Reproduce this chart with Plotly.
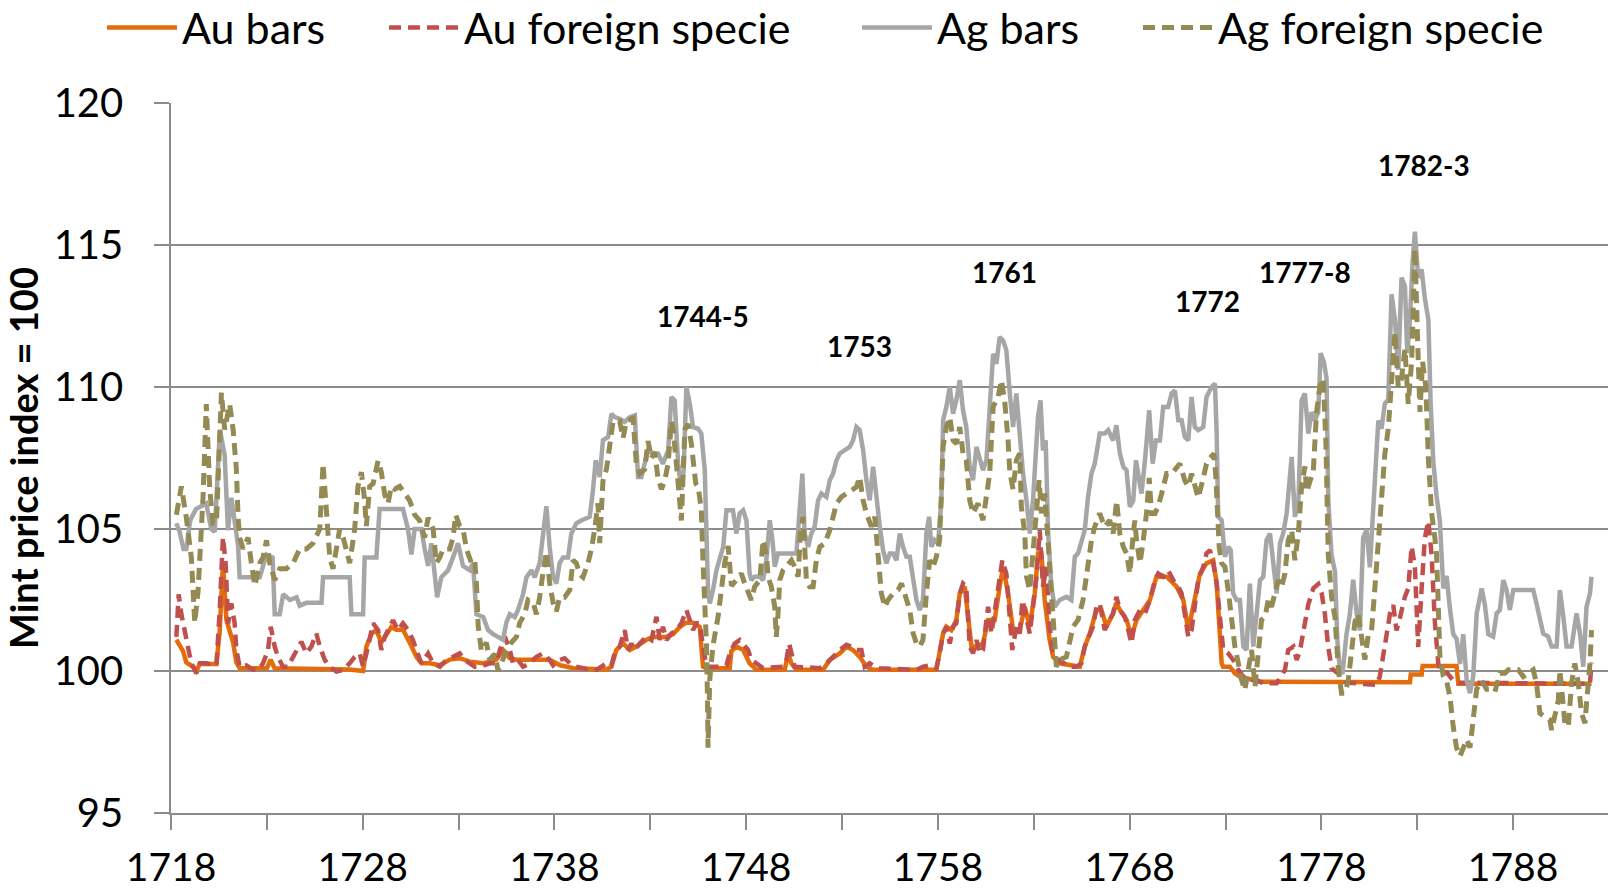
import plotly.graph_objects as go

# ---------------- data (year, index value) ----------------
AU_BARS = [
    (1718.28, 101.1), (1718.63, 100.7), (1718.80, 100.3), (1719.15, 100.15), (1719.32, 100.0), (1719.50, 100.25),
    (1720.37, 100.25), (1720.54, 101.4), (1720.71, 103.8), (1720.89, 101.8), (1721.06, 101.4), (1721.24, 101.0),
    (1721.41, 100.3), (1721.58, 100.1), (1723.0, 100.1), (1723.2, 100.4), (1723.4, 100.1), (1727.32, 100.05),
    (1728.02, 100.0), (1728.19, 100.86), (1728.45, 101.3), (1728.71, 101.45), (1728.97, 101.0), (1729.23, 101.3),
    (1729.49, 101.55), (1729.75, 101.45), (1730.10, 101.45), (1730.45, 101.0), (1730.80, 100.5), (1731.06, 100.27),
    (1731.49, 100.27), (1732.02, 100.2), (1732.54, 100.4), (1733.06, 100.45), (1733.58, 100.33), (1734.28, 100.27),
    (1734.97, 100.4), (1735.32, 100.74), (1735.67, 100.45), (1736.02, 100.4), (1737.06, 100.4), (1737.75, 100.4),
    (1738.3, 100.2), (1739.0, 100.1), (1740.71, 100.05), (1740.97, 100.15), (1741.23, 100.74), (1741.58, 100.97),
    (1741.93, 100.74), (1742.27, 100.86), (1742.80, 101.1), (1743.14, 101.2), (1743.84, 101.2), (1744.19, 101.3),
    (1744.54, 101.55), (1744.88, 101.7), (1745.23, 101.7), (1745.58, 101.55), (1745.75, 100.15), (1745.93, 100.1),
    (1747.14, 100.1), (1747.23, 100.7), (1747.49, 100.86), (1747.84, 100.74), (1748.18, 100.27), (1748.53, 100.04),
    (1750.01, 100.04), (1750.18, 100.62), (1750.36, 100.27), (1750.62, 100.04), (1752.01, 100.04), (1752.36, 100.39),
    (1752.88, 100.62), (1753.23, 100.86), (1753.57, 100.74), (1753.92, 100.5), (1754.27, 100.15), (1754.62, 100.04),
    (1757.92, 100.04), (1758.09, 100.62), (1758.27, 101.32), (1758.44, 101.56), (1758.70, 101.44), (1758.96, 101.8),
    (1759.14, 102.73), (1759.40, 102.97), (1759.57, 101.91), (1759.75, 100.86), (1760.01, 100.86), (1760.35, 100.97),
    (1760.62, 101.8), (1760.96, 101.8), (1761.22, 102.97), (1761.40, 103.67), (1761.66, 102.73), (1761.92, 101.44),
    (1762.27, 101.44), (1762.53, 102.26), (1762.79, 101.56), (1763.05, 102.73), (1763.22, 104.14), (1763.40, 104.14),
    (1763.57, 102.5), (1763.83, 101.09), (1764.01, 100.5), (1764.35, 100.27), (1765.40, 100.15), (1765.66, 100.86),
    (1765.92, 101.32), (1766.27, 102.15), (1766.53, 102.15), (1766.79, 101.56), (1767.14, 102.03), (1767.30, 102.4),
    (1767.49, 102.15), (1767.84, 101.8), (1768.10, 101.2), (1768.36, 101.8), (1768.71, 102.15), (1769.06, 102.5),
    (1769.40, 103.32), (1769.93, 103.32), (1770.45, 102.97), (1770.80, 102.5), (1771.06, 101.44), (1771.32, 102.26),
    (1771.67, 103.43), (1772.01, 103.79), (1772.36, 103.9), (1772.54, 103.08), (1772.71, 101.32), (1772.80, 100.27),
    (1772.88, 100.15), (1773.23, 100.15), (1773.49, 99.92), (1773.75, 99.8), (1774.80, 99.62), (1782.62, 99.6),
    (1782.66, 99.88), (1783.23, 99.88), (1783.28, 100.18), (1785.05, 100.18), (1785.14, 99.55), (1792.09, 99.55),
]

AU_FOREIGN = [
    (1718.28, 101.2), (1718.40, 102.7), (1718.54, 102.0), (1718.71, 101.44), (1718.89, 100.74), (1719.06, 100.27),
    (1719.32, 99.92), (1719.50, 100.27), (1719.84, 100.27), (1720.37, 100.2), (1720.54, 102.15), (1720.71, 104.72),
    (1720.85, 103.79), (1720.98, 101.68), (1721.15, 102.38), (1721.32, 101.68), (1721.41, 100.74), (1721.58, 100.15),
    (1721.93, 100.2), (1722.28, 100.04), (1722.54, 100.04), (1722.80, 100.27), (1723.06, 100.74), (1723.20, 101.56),
    (1723.41, 100.86), (1723.58, 100.5), (1723.84, 100.15), (1724.11, 100.15), (1724.37, 100.5), (1724.54, 100.74),
    (1724.80, 101.03), (1725.06, 100.62), (1725.32, 100.86), (1725.58, 101.32), (1725.76, 100.86), (1726.02, 100.39),
    (1726.28, 100.15), (1726.63, 99.98), (1726.98, 100.04), (1727.32, 100.27), (1727.58, 100.5), (1727.84, 100.62),
    (1728.02, 100.15), (1728.28, 100.86), (1728.54, 101.68), (1728.80, 101.44), (1728.97, 100.74), (1729.15, 101.21),
    (1729.32, 101.44), (1729.58, 101.79), (1729.84, 101.44), (1730.10, 101.68), (1730.36, 101.44), (1730.62, 101.09),
    (1730.80, 100.74), (1731.06, 100.27), (1731.41, 100.62), (1731.67, 100.27), (1732.02, 100.15), (1732.36, 100.39),
    (1732.71, 100.5), (1733.06, 100.62), (1733.32, 100.39), (1733.58, 100.27), (1733.84, 100.15), (1734.10, 100.15),
    (1734.62, 100.27), (1734.97, 100.27), (1735.15, 100.74), (1735.41, 101.21), (1735.67, 100.74), (1735.84, 100.27),
    (1736.10, 100.39), (1736.36, 100.15), (1736.71, 100.27), (1737.06, 100.5), (1737.41, 100.62), (1737.75, 100.39),
    (1737.93, 100.2), (1738.27, 100.39), (1738.53, 100.45), (1738.80, 100.27), (1739.14, 100.15), (1739.49, 100.1),
    (1739.84, 100.04), (1740.19, 100.04), (1740.45, 100.15), (1740.71, 100.27), (1740.97, 100.2), (1741.14, 100.62),
    (1741.40, 100.86), (1741.66, 101.44), (1741.84, 100.74), (1742.01, 100.97), (1742.19, 100.74), (1742.45, 100.97),
    (1742.80, 101.21), (1743.06, 101.09), (1743.32, 101.91), (1743.49, 101.09), (1743.66, 101.56), (1743.84, 101.09),
    (1744.10, 101.32), (1744.36, 101.44), (1744.62, 101.68), (1744.88, 102.15), (1745.06, 101.79), (1745.23, 101.44),
    (1745.40, 101.68), (1745.58, 101.68), (1745.75, 100.86), (1745.93, 100.15), (1746.62, 100.15), (1746.97, 100.2),
    (1747.14, 100.62), (1747.40, 100.97), (1747.66, 101.09), (1747.92, 100.86), (1748.10, 100.74), (1748.27, 100.39),
    (1748.53, 100.27), (1748.88, 100.1), (1749.92, 100.15), (1750.10, 100.39), (1750.24, 100.97), (1750.36, 100.62),
    (1750.53, 100.15), (1751.84, 100.1), (1752.18, 100.27), (1752.53, 100.5), (1752.88, 100.74), (1753.23, 100.92),
    (1753.49, 100.86), (1753.75, 100.74), (1754.01, 100.74), (1754.18, 100.15), (1754.44, 100.27), (1754.71, 100.15),
    (1754.97, 100.1), (1756.88, 100.04), (1757.23, 100.15), (1757.57, 100.2), (1757.92, 100.1), (1758.09, 100.62),
    (1758.27, 101.32), (1758.44, 101.56), (1758.62, 100.97), (1758.79, 101.56), (1758.96, 101.68), (1759.14, 102.73),
    (1759.31, 103.08), (1759.48, 102.97), (1759.66, 100.86), (1759.83, 100.62), (1760.01, 101.09), (1760.18, 100.62),
    (1760.35, 100.74), (1760.53, 101.8), (1760.62, 102.26), (1760.79, 101.32), (1760.96, 102.03), (1761.14, 102.97),
    (1761.36, 103.9), (1761.57, 103.43), (1761.75, 102.03), (1761.88, 100.74), (1762.09, 101.56), (1762.27, 101.32),
    (1762.41, 102.5), (1762.62, 101.8), (1762.79, 101.32), (1762.96, 102.26), (1763.14, 103.32), (1763.31, 104.96),
    (1763.48, 102.97), (1763.66, 103.67), (1763.83, 101.56), (1764.01, 100.5), (1764.27, 100.39), (1764.53, 100.27),
    (1764.88, 100.15), (1765.22, 100.15), (1765.48, 100.27), (1765.66, 100.86), (1765.92, 101.32), (1766.09, 101.56),
    (1766.27, 102.26), (1766.44, 102.38), (1766.70, 101.44), (1766.96, 101.8), (1767.14, 102.03), (1767.31, 102.61),
    (1767.49, 102.15), (1767.75, 101.91), (1767.93, 101.44), (1768.10, 100.97), (1768.27, 101.8), (1768.54, 102.15),
    (1768.80, 102.03), (1769.06, 102.5), (1769.32, 103.2), (1769.49, 103.43), (1769.75, 103.32), (1770.01, 103.55),
    (1770.27, 103.2), (1770.54, 102.97), (1770.71, 102.73), (1770.88, 102.03), (1771.06, 101.2), (1771.23, 101.44),
    (1771.40, 102.26), (1771.58, 103.2), (1771.84, 103.67), (1772.01, 104.14), (1772.19, 104.26), (1772.36, 103.79),
    (1772.54, 103.08), (1772.71, 101.68), (1772.88, 100.74), (1773.14, 100.62), (1773.40, 100.39), (1773.67, 100.04),
    (1773.93, 99.8), (1774.27, 99.68), (1774.62, 99.68), (1774.97, 99.57), (1775.67, 99.57), (1776.10, 100.04),
    (1776.27, 100.74), (1776.54, 100.86), (1776.71, 100.39), (1776.88, 100.7), (1777.05, 101.43), (1777.31, 102.32),
    (1777.58, 102.91), (1777.84, 103.06), (1778.01, 102.76), (1778.18, 102.02), (1778.36, 100.84), (1778.53, 100.1),
    (1778.79, 99.96), (1779.05, 99.81), (1779.31, 99.59), (1780.88, 99.51), (1781.05, 99.81), (1781.23, 100.55),
    (1781.40, 101.29), (1781.58, 102.02), (1781.75, 102.32), (1781.92, 101.43), (1782.10, 101.88), (1782.36, 102.62),
    (1782.53, 102.91), (1782.71, 104.39), (1782.88, 103.65), (1783.05, 100.84), (1783.23, 102.91), (1783.40, 104.69),
    (1783.58, 105.28), (1783.75, 104.09), (1783.92, 101.73), (1784.10, 100.25), (1784.27, 99.96), (1784.53, 99.96),
    (1784.88, 99.66), (1785.23, 99.59), (1792.01, 99.55), (1792.09, 100.3),
]

AG_BARS = [
    (1718.28, 105.2), (1718.45, 104.9), (1718.65, 104.3), (1718.80, 104.3), (1719.0, 105.3), (1719.3, 105.7),
    (1719.84, 105.9), (1720.1, 105.0), (1720.28, 104.9), (1720.45, 107.5), (1720.55, 108.5), (1720.8, 107.6),
    (1720.97, 104.96), (1721.15, 106.1), (1721.32, 105.2), (1721.5, 104.4), (1721.58, 103.3), (1722.63, 103.3),
    (1722.98, 104.1), (1723.3, 104.0), (1723.41, 102.0), (1723.67, 102.0), (1723.85, 102.7), (1724.02, 102.6),
    (1724.2, 102.5), (1724.55, 102.6), (1724.71, 102.3), (1725.06, 102.4), (1725.85, 102.4), (1725.93, 103.3),
    (1727.32, 103.3), (1727.41, 102.0), (1728.02, 102.0), (1728.1, 104.0), (1728.71, 104.0), (1728.88, 105.7),
    (1730.1, 105.7), (1730.36, 105.0), (1730.54, 104.1), (1730.71, 105.0), (1731.06, 105.0), (1731.23, 104.3),
    (1731.41, 103.7), (1731.58, 104.5), (1731.75, 103.55), (1731.88, 102.6), (1732.1, 103.3), (1732.45, 103.55),
    (1732.71, 104.0), (1732.97, 104.5), (1733.23, 103.7), (1733.58, 103.55), (1733.75, 103.8), (1733.93, 102.0),
    (1734.28, 101.9), (1734.54, 101.44), (1734.8, 101.3), (1735.06, 101.2), (1735.32, 101.1), (1735.49, 101.7),
    (1735.67, 102.0), (1735.93, 101.9), (1736.1, 102.15), (1736.36, 102.7), (1736.54, 103.3), (1736.8, 103.55),
    (1736.97, 103.3), (1737.23, 103.8), (1737.40, 104.7), (1737.58, 105.8), (1737.75, 104.37), (1737.93, 103.32),
    (1738.10, 103.08), (1738.27, 103.8), (1738.45, 104.0), (1738.71, 104.0), (1738.88, 104.84), (1739.14, 105.2),
    (1739.40, 105.3), (1739.84, 105.43), (1740.01, 106.37), (1740.15, 107.42), (1740.36, 106.83), (1740.53, 108.12),
    (1740.80, 108.24), (1740.97, 109.06), (1741.14, 108.94), (1741.40, 108.88), (1741.66, 108.77), (1741.93, 108.94),
    (1742.19, 109.0), (1742.36, 106.83), (1742.53, 106.83), (1742.71, 107.3), (1742.88, 107.77), (1743.14, 107.66),
    (1743.40, 107.66), (1743.66, 107.3), (1743.93, 107.77), (1744.10, 109.65), (1744.27, 109.53), (1744.45, 107.3),
    (1744.62, 106.37), (1744.74, 107.07), (1744.88, 110.0), (1745.06, 109.41), (1745.23, 108.59), (1745.49, 108.53),
    (1745.66, 108.36), (1745.84, 107.07), (1745.93, 104.96), (1746.01, 102.85), (1746.10, 102.38), (1746.27, 102.85),
    (1746.45, 103.55), (1746.62, 104.02), (1746.80, 104.37), (1746.97, 105.66), (1747.31, 105.66), (1747.49, 104.84),
    (1747.66, 105.55), (1747.84, 105.66), (1748.01, 105.31), (1748.18, 103.43), (1748.27, 103.2), (1748.44, 103.32),
    (1748.71, 103.32), (1748.88, 103.2), (1749.05, 103.9), (1749.23, 105.31), (1749.37, 104.61), (1749.49, 103.67),
    (1749.66, 104.14), (1750.62, 104.14), (1750.79, 105.55), (1750.93, 106.95), (1751.05, 104.84), (1751.23, 104.37),
    (1751.40, 104.84), (1751.57, 105.08), (1751.75, 106.01), (1751.92, 106.25), (1752.18, 106.13), (1752.36, 106.72),
    (1752.53, 106.95), (1752.71, 107.42), (1752.88, 107.66), (1753.14, 107.77), (1753.40, 107.89), (1753.57, 108.12),
    (1753.75, 108.59), (1753.92, 108.48), (1754.10, 107.77), (1754.27, 106.72), (1754.44, 106.01), (1754.62, 107.19),
    (1754.79, 106.01), (1754.97, 105.08), (1755.14, 104.26), (1755.31, 103.79), (1755.49, 104.14), (1755.66, 104.14),
    (1755.84, 103.9), (1756.01, 104.84), (1756.18, 104.37), (1756.36, 104.02), (1756.53, 104.02), (1756.71, 103.2),
    (1756.88, 102.5), (1757.05, 102.15), (1757.22, 102.5), (1757.40, 104.84), (1757.54, 105.43), (1757.66, 104.37),
    (1757.83, 104.61), (1758.01, 104.49), (1758.18, 106.01), (1758.27, 108.83), (1758.44, 109.3), (1758.62, 110.0),
    (1758.79, 109.06), (1758.96, 109.53), (1759.14, 110.24), (1759.31, 109.18), (1759.48, 108.59), (1759.66, 107.19),
    (1759.83, 106.72), (1760.01, 107.89), (1760.18, 107.42), (1760.35, 107.07), (1760.53, 107.42), (1760.70, 109.18),
    (1760.88, 111.17), (1761.05, 110.82), (1761.22, 111.76), (1761.40, 111.64), (1761.57, 111.29), (1761.75, 109.77),
    (1761.92, 108.59), (1762.09, 109.77), (1762.27, 108.36), (1762.44, 106.95), (1762.62, 106.01), (1762.79, 104.84),
    (1762.96, 106.01), (1763.22, 108.94), (1763.35, 109.53), (1763.48, 107.77), (1763.62, 108.12), (1763.75, 104.84),
    (1763.92, 102.97), (1764.09, 102.26), (1764.35, 102.5), (1764.70, 102.61), (1764.96, 102.5), (1765.14, 104.02),
    (1765.31, 104.14), (1765.48, 104.49), (1765.66, 104.96), (1765.83, 106.13), (1766.01, 106.95), (1766.18, 107.3),
    (1766.44, 108.36), (1766.70, 108.36), (1766.88, 108.48), (1767.14, 108.12), (1767.31, 108.65), (1767.49, 107.66),
    (1767.67, 107.19), (1767.84, 107.07), (1768.01, 105.78), (1768.19, 106.01), (1768.33, 107.42), (1768.50, 106.72),
    (1768.62, 106.25), (1768.80, 107.42), (1769.02, 109.18), (1769.20, 107.3), (1769.37, 108.12), (1769.58, 108.12),
    (1769.75, 109.3), (1770.01, 109.3), (1770.19, 109.77), (1770.36, 109.88), (1770.54, 108.83), (1770.71, 108.83),
    (1770.88, 108.24), (1771.06, 108.12), (1771.23, 109.65), (1771.40, 108.59), (1771.58, 108.48), (1771.84, 108.59),
    (1772.01, 109.65), (1772.27, 110.0), (1772.45, 110.12), (1772.54, 108.36), (1772.62, 105.43), (1772.80, 105.31),
    (1772.97, 104.02), (1773.14, 104.37), (1773.27, 104.26), (1773.40, 102.73), (1773.58, 102.5), (1773.75, 102.5),
    (1773.93, 100.86), (1774.10, 100.74), (1774.27, 103.08), (1774.45, 100.86), (1774.62, 102.03), (1774.80, 103.2),
    (1774.97, 103.32), (1775.14, 104.61), (1775.32, 104.84), (1775.49, 103.67), (1775.67, 102.73), (1775.84, 104.49),
    (1776.01, 104.84), (1776.19, 105.55), (1776.45, 107.54), (1776.62, 105.43), (1776.80, 105.9), (1776.97, 109.53),
    (1777.14, 109.77), (1777.32, 108.36), (1777.49, 109.12), (1777.66, 108.82), (1777.84, 109.12), (1777.96, 111.19),
    (1778.13, 110.89), (1778.27, 110.3), (1778.36, 106.02), (1778.53, 104.09), (1778.71, 103.5), (1778.83, 101.14),
    (1778.97, 99.96), (1779.11, 99.96), (1779.31, 101.29), (1779.49, 102.02), (1779.66, 103.21), (1779.84, 102.02),
    (1780.01, 101.43), (1780.18, 104.69), (1780.36, 104.98), (1780.53, 103.65), (1780.71, 105.57), (1780.97, 108.82),
    (1781.14, 108.53), (1781.31, 109.41), (1781.49, 109.56), (1781.66, 113.26), (1781.84, 112.37), (1782.01, 110.6),
    (1782.18, 113.85), (1782.36, 113.55), (1782.48, 111.19), (1782.62, 112.37), (1782.76, 114.44), (1782.88, 115.47),
    (1783.05, 113.85), (1783.23, 114.14), (1783.40, 113.11), (1783.58, 112.37), (1783.70, 109.41), (1783.84, 107.35),
    (1784.01, 106.16), (1784.18, 105.28), (1784.36, 102.91), (1784.53, 103.35), (1784.71, 102.17), (1784.88, 101.29),
    (1785.05, 101.14), (1785.23, 100.25), (1785.40, 101.29), (1785.58, 99.66), (1785.75, 99.22), (1785.92, 99.81),
    (1786.10, 102.02), (1786.36, 102.91), (1786.53, 102.32), (1786.71, 101.29), (1786.96, 101.21), (1787.14, 102.03),
    (1787.31, 102.15), (1787.49, 103.2), (1787.66, 102.85), (1787.83, 102.15), (1788.01, 102.85), (1789.05, 102.85),
    (1789.22, 102.38), (1789.40, 101.79), (1789.57, 101.32), (1789.83, 101.21), (1790.01, 100.86), (1790.27, 100.86),
    (1790.44, 102.85), (1790.62, 101.91), (1790.79, 100.86), (1791.05, 100.86), (1791.31, 102.03), (1791.49, 101.32),
    (1791.66, 100.15), (1791.83, 102.26), (1792.01, 102.73), (1792.09, 103.32),
]

AG_FOREIGN = [
    (1718.28, 105.5), (1718.54, 106.5), (1718.80, 105.4), (1719.06, 104.0), (1719.24, 101.7), (1719.41, 102.8),
    (1719.67, 106.1), (1719.84, 109.4), (1720.02, 106.4), (1720.19, 105.2), (1720.37, 105.2), (1720.63, 109.8),
    (1720.80, 108.5), (1721.06, 109.4), (1721.24, 108.5), (1721.41, 107.1), (1721.50, 105.4), (1721.58, 104.7),
    (1721.76, 104.3), (1722.02, 104.7), (1722.19, 103.8), (1722.37, 103.0), (1722.63, 103.8), (1722.80, 104.0),
    (1722.98, 104.6), (1723.15, 103.8), (1723.41, 103.2), (1723.67, 103.6), (1724.02, 103.6), (1724.37, 103.8),
    (1724.71, 104.3), (1725.06, 104.3), (1725.41, 104.5), (1725.58, 104.7), (1725.76, 105.0), (1725.93, 107.3),
    (1726.11, 105.4), (1726.28, 104.0), (1726.45, 103.6), (1726.80, 105.0), (1726.98, 104.7), (1727.15, 104.3),
    (1727.32, 103.8), (1727.41, 104.2), (1727.58, 105.0), (1727.75, 106.5), (1727.93, 107.0), (1728.10, 106.0),
    (1728.19, 105.1), (1728.36, 106.5), (1728.54, 106.6), (1728.80, 107.4), (1728.97, 107.0), (1729.15, 106.2),
    (1729.32, 105.9), (1729.49, 106.5), (1729.67, 106.4), (1729.93, 106.5), (1730.19, 106.25), (1730.45, 106.0),
    (1730.71, 105.5), (1730.97, 105.3), (1731.23, 104.7), (1731.41, 105.4), (1731.67, 105.0), (1731.84, 103.8),
    (1732.02, 104.0), (1732.19, 104.3), (1732.54, 104.3), (1732.71, 104.7), (1732.85, 105.5), (1733.06, 105.1),
    (1733.23, 105.0), (1733.41, 104.3), (1733.67, 103.8), (1733.84, 103.9), (1733.93, 103.1), (1734.02, 101.6),
    (1734.19, 100.7), (1734.45, 101.0), (1734.62, 100.4), (1734.89, 100.6), (1735.06, 100.0), (1735.23, 100.3),
    (1735.49, 100.7), (1735.75, 101.0), (1736.02, 101.2), (1736.19, 101.7), (1736.45, 102.0), (1736.62, 102.5),
    (1736.89, 102.4), (1737.06, 102.0), (1737.23, 102.6), (1737.41, 103.5), (1737.58, 104.2), (1737.75, 103.1),
    (1737.93, 102.4), (1738.10, 102.1), (1738.27, 102.6), (1738.53, 102.6), (1738.80, 102.85), (1738.97, 103.9),
    (1739.14, 103.8), (1739.32, 103.4), (1739.49, 103.3), (1739.75, 103.8), (1739.93, 104.3), (1740.10, 105.0),
    (1740.27, 105.9), (1740.36, 104.5), (1740.45, 105.7), (1740.53, 106.7), (1740.71, 107.1), (1740.88, 107.8),
    (1741.06, 108.8), (1741.40, 108.8), (1741.58, 108.2), (1741.75, 108.8), (1742.10, 108.9), (1742.27, 107.3),
    (1742.45, 106.95), (1742.71, 107.1), (1742.88, 108.1), (1743.06, 107.5), (1743.23, 107.7), (1743.40, 106.8),
    (1743.58, 106.4), (1743.75, 106.7), (1743.93, 107.3), (1744.10, 108.8), (1744.19, 108.5), (1744.36, 107.3),
    (1744.50, 106.1), (1744.62, 105.3), (1744.80, 108.5), (1744.97, 108.7), (1745.14, 108.0), (1745.26, 107.1),
    (1745.37, 106.6), (1745.49, 106.5), (1745.66, 105.7), (1745.75, 103.8), (1745.84, 102.4), (1745.93, 100.9),
    (1745.98, 99.1), (1746.01, 97.3), (1746.10, 99.7), (1746.27, 100.9), (1746.53, 101.9), (1746.71, 102.9),
    (1746.88, 103.8), (1747.06, 104.4), (1747.23, 103.0), (1747.49, 103.2), (1747.75, 103.43), (1747.92, 103.08),
    (1748.10, 102.73), (1748.27, 102.5), (1748.44, 102.97), (1748.71, 103.2), (1748.88, 104.61), (1749.05, 104.14),
    (1749.14, 103.32), (1749.31, 102.97), (1749.49, 102.26), (1749.57, 101.2), (1749.66, 102.0), (1749.75, 103.2),
    (1749.92, 103.55), (1750.18, 103.79), (1750.36, 103.9), (1750.53, 103.67), (1750.71, 103.32), (1750.83, 104.84),
    (1750.97, 105.43), (1751.14, 103.2), (1751.31, 102.97), (1751.49, 102.97), (1751.66, 103.9), (1751.84, 104.37),
    (1752.10, 104.49), (1752.36, 104.96), (1752.53, 105.43), (1752.71, 105.9), (1752.97, 106.13), (1753.23, 106.25),
    (1753.49, 106.37), (1753.75, 106.48), (1753.92, 106.83), (1754.10, 106.01), (1754.27, 105.55), (1754.53, 105.08),
    (1754.71, 105.43), (1754.88, 103.9), (1755.05, 102.73), (1755.23, 102.26), (1755.40, 102.5), (1755.66, 102.73),
    (1755.92, 102.85), (1756.10, 103.08), (1756.27, 102.73), (1756.53, 102.15), (1756.71, 101.32), (1756.88, 100.97),
    (1757.05, 100.86), (1757.22, 101.1), (1757.40, 102.73), (1757.57, 103.9), (1757.75, 103.67), (1757.92, 104.02),
    (1758.09, 104.61), (1758.18, 106.48), (1758.27, 107.89), (1758.44, 108.59), (1758.62, 108.94), (1758.79, 108.12),
    (1758.96, 108.0), (1759.14, 108.59), (1759.31, 107.66), (1759.48, 107.42), (1759.66, 106.01), (1759.83, 105.55),
    (1760.09, 105.9), (1760.35, 105.31), (1760.53, 106.25), (1760.70, 106.95), (1760.88, 109.3), (1761.14, 109.65),
    (1761.31, 110.24), (1761.48, 109.53), (1761.66, 108.12), (1761.75, 107.0), (1761.92, 106.4), (1762.09, 107.42),
    (1762.27, 107.66), (1762.35, 105.8), (1762.53, 104.84), (1762.62, 103.32), (1762.79, 102.85), (1762.96, 104.14),
    (1763.14, 105.31), (1763.28, 106.72), (1763.40, 105.55), (1763.57, 106.25), (1763.75, 104.49), (1763.92, 102.5),
    (1764.09, 100.74), (1764.18, 100.15), (1764.35, 100.39), (1764.70, 100.5), (1765.05, 101.56), (1765.31, 101.8),
    (1765.57, 102.5), (1765.83, 103.9), (1766.01, 104.61), (1766.18, 105.08), (1766.44, 105.55), (1766.70, 105.08),
    (1766.96, 105.31), (1767.14, 104.84), (1767.32, 106.0), (1767.49, 104.84), (1767.67, 104.37), (1767.84, 104.14),
    (1768.01, 103.43), (1768.19, 104.84), (1768.27, 105.3), (1768.36, 104.6), (1768.54, 103.8), (1768.71, 104.6),
    (1768.88, 105.55), (1769.02, 106.8), (1769.14, 105.55), (1769.32, 105.55), (1769.49, 105.8), (1769.67, 106.25),
    (1769.93, 106.95), (1770.19, 106.95), (1770.45, 107.2), (1770.62, 107.3), (1770.88, 106.7), (1771.06, 106.5),
    (1771.23, 106.95), (1771.40, 106.5), (1771.58, 106.1), (1771.84, 106.8), (1772.01, 107.3), (1772.19, 107.5),
    (1772.40, 107.65), (1772.50, 106.8), (1772.57, 105.43), (1772.67, 104.37), (1772.80, 103.8), (1772.97, 103.67),
    (1773.14, 102.85), (1773.32, 101.68), (1773.49, 100.86), (1773.67, 100.27), (1773.84, 99.68), (1774.01, 99.33),
    (1774.19, 100.15), (1774.36, 100.74), (1774.54, 99.45), (1774.71, 100.74), (1774.88, 101.8), (1775.06, 101.9),
    (1775.23, 102.5), (1775.40, 102.26), (1775.58, 102.73), (1775.75, 103.2), (1775.93, 102.97), (1776.10, 103.43),
    (1776.27, 104.6), (1776.45, 104.96), (1776.62, 103.9), (1776.80, 104.84), (1776.97, 106.5), (1777.14, 107.2),
    (1777.23, 106.31), (1777.40, 106.75), (1777.58, 107.05), (1777.75, 109.12), (1777.92, 110.0), (1778.10, 110.3),
    (1778.24, 107.94), (1778.36, 104.09), (1778.53, 102.62), (1778.71, 101.88), (1778.88, 100.1), (1779.05, 99.22),
    (1779.23, 99.22), (1779.40, 99.66), (1779.58, 100.84), (1779.75, 101.73), (1779.92, 102.02), (1780.10, 101.14),
    (1780.27, 100.4), (1780.45, 101.29), (1780.62, 101.43), (1780.79, 102.91), (1780.97, 104.69), (1781.14, 106.46),
    (1781.31, 107.64), (1781.49, 108.53), (1781.66, 110.0), (1781.84, 111.93), (1782.01, 110.0), (1782.18, 110.3),
    (1782.36, 111.34), (1782.53, 109.41), (1782.71, 110.89), (1782.88, 114.88), (1783.0, 112.08), (1783.14, 109.12),
    (1783.28, 110.89), (1783.45, 110.0), (1783.58, 107.5), (1783.75, 105.57), (1783.92, 104.69), (1784.01, 104.09),
    (1784.18, 100.55), (1784.36, 99.81), (1784.53, 99.66), (1784.71, 99.07), (1784.88, 98.03), (1785.05, 97.3),
    (1785.23, 97.0), (1785.40, 97.3), (1785.58, 97.59), (1785.75, 97.3), (1785.92, 98.33), (1786.10, 99.36),
    (1786.36, 99.66), (1786.62, 99.36), (1786.88, 99.36), (1787.05, 99.27), (1787.31, 99.92), (1787.57, 99.92),
    (1787.75, 100.04), (1788.27, 100.04), (1788.53, 99.8), (1789.05, 100.04), (1789.22, 99.57), (1789.40, 98.51),
    (1789.66, 98.39), (1789.92, 98.28), (1790.01, 97.92), (1790.18, 98.51), (1790.36, 98.98), (1790.44, 100.04),
    (1790.53, 99.33), (1790.70, 98.16), (1790.88, 98.04), (1791.05, 99.57), (1791.22, 100.27), (1791.40, 99.57),
    (1791.57, 98.51), (1791.75, 98.16), (1791.83, 98.86), (1792.01, 100.27), (1792.09, 101.44),
]

SERIES_NAMES = ["Au bars", "Au foreign specie", "Ag bars", "Ag foreign specie"]
X_TICK_VALUES = list(range(1718, 1792, 5))
X_TICK_LABELS = [str(v) if (v - 1718) % 10 == 0 else "" for v in X_TICK_VALUES]
EVENT_LABELS = ["1744-5", "1753", "1761", "1772", "1777-8", "1782-3"]
EVENT_POS = [(1745.77, 112.5), (1753.9, 111.45), (1761.45, 114.05),
             (1772.04, 113.04), (1777.17, 114.05), (1783.33, 117.8)]
Y_TITLE = "Mint price index = 100"

# ---------------- styling ----------------
FONT = "Lato, 'Open Sans', sans-serif"
GRID = "#8c8c8c"
STYLES = [
    dict(color="#E46C0A", width=4.5, dash="solid"),
    dict(color="#C0504D", width=4.5, dash="12px,7px"),
    dict(color="#A6A6A6", width=4.5, dash="solid"),
    dict(color="#948A54", width=5, dash="12px,7px"),
]
LEGEND_X_PX = [102, 384, 857, 1138]

fig = go.Figure()
legend_ids = ["legend", "legend2", "legend3", "legend4"]
for data, name, st, lid in zip([AU_BARS, AU_FOREIGN, AG_BARS, AG_FOREIGN], SERIES_NAMES, STYLES, legend_ids):
    xs = [p[0] for p in data]
    ys = [p[1] for p in data]
    fig.add_trace(go.Scatter(x=xs, y=ys, mode="lines", name=name, line=st, legend=lid,
                             showlegend=True, hoverinfo="skip"))

layout_legends = {}
for lid, xpx in zip(legend_ids, LEGEND_X_PX):
    layout_legends[lid] = dict(
        x=xpx / 1608, xref="container", xanchor="left",
        y=1 - 27.5 / 893, yref="container", yanchor="middle",
        orientation="h", font=dict(family=FONT, size=43, color="#000000"),
        bgcolor="rgba(0,0,0,0)", borderwidth=0, itemwidth=70, visible=True,
    )

annotations = []
for txt, (ax, ay) in zip(EVENT_LABELS, EVENT_POS):
    annotations.append(dict(x=ax, y=ay, xref="x", yref="y", text=txt, showarrow=False,
                            font=dict(family=FONT, size=28, color="#000000", weight="bold"),
                            xanchor="center", yanchor="middle"))

fig.update_layout(
    width=1608, height=893, showlegend=True,
    margin=dict(l=171, r=0, t=103, b=80, autoexpand=False),
    paper_bgcolor="white", plot_bgcolor="white",
    annotations=annotations,
    **layout_legends,
)
fig.update_xaxes(
    range=[1718, 1792.95], tickmode="array", tickvals=X_TICK_VALUES, ticktext=X_TICK_LABELS,
    ticks="outside", ticklen=15, tickwidth=1.5, tickcolor=GRID,
    showline=True, linecolor=GRID, linewidth=1.5, showgrid=False, zeroline=False,
    tickfont=dict(family=FONT, size=39, color="#000000"), ticklabelstandoff=4,
)
fig.update_yaxes(
    range=[95, 120], dtick=5, tick0=95,
    ticks="outside", ticklen=15, tickwidth=1.5, tickcolor=GRID,
    showline=True, linecolor=GRID, linewidth=1.5,
    showgrid=True, gridcolor=GRID, gridwidth=1.5, zeroline=False,
    tickfont=dict(family=FONT, size=40, color="#000000"), ticklabelstandoff=23,
    title=dict(text=Y_TITLE, font=dict(family=FONT, size=38, color="#000000", weight="bold"), standoff=16),
)

fig.write_html("out.html", config={"displayModeBar": False},
               post_script="document.body.style.margin='0';")
